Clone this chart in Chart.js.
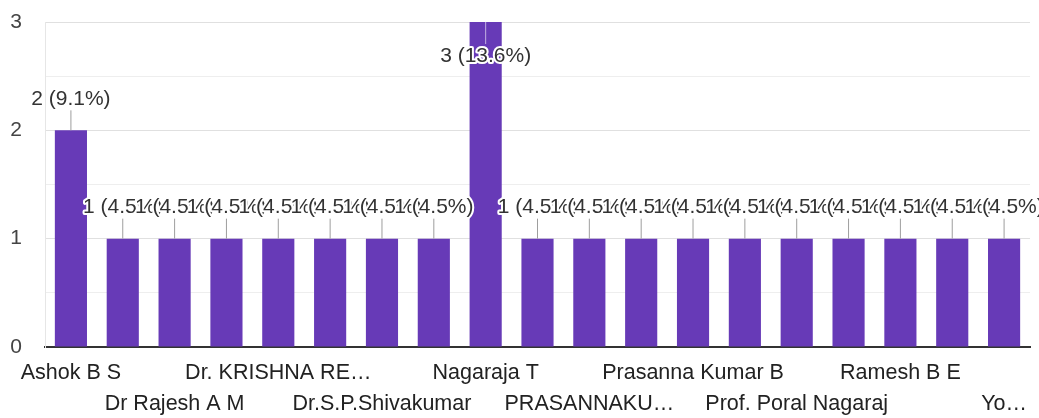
<!DOCTYPE html>
<html>
<head>
<meta charset="utf-8">
<script src="https://cdn.jsdelivr.net/npm/chart.js@4.4.1/dist/chart.umd.min.js"></script>
<style>
  html, body { margin: 0; padding: 0; background: #fff; }
  #wrap { width: 1039px; height: 418px; }
</style>
</head>
<body>
<div id="wrap"><canvas id="Answers"></canvas></div>
<script>
// names as shown on the axis; the unlabelled ones are not readable in the picture
var names = ["Ashok B S", "", "Dr Rajesh A M", "", "Dr. KRISHNA RE\u2026", "", "Dr.S.P.Shivakumar", "",
             "Nagaraja T", "", "PRASANNAKU\u2026", "", "Prasanna Kumar B", "", "Prof. Poral Nagaraj", "",
             "Ramesh B E", "", "Yo\u2026"];
var counts = [2, 1, 1, 1, 1, 1, 1, 1, 3, 1, 1, 1, 1, 1, 1, 1, 1, 1, 1];
var yTicks = [0, 1, 2, 3];

var total = counts.reduce(function(a, b){ return a + b; }, 0);
var FONT = "'Liberation Sans', Arial, sans-serif";

var barLabels = {
  id: 'barLabels',
  afterDatasetsDraw: function(chart){
    var ctx = chart.ctx;
    var area = chart.chartArea;
    var bars = chart.getDatasetMeta(0).data;
    ctx.save();
    ctx.font = '21px ' + FONT;
    ctx.textAlign = 'center';
    ctx.textBaseline = 'middle';
    bars.forEach(function(bar, i){
      var v = counts[i];
      var txt = v + ' (' + (v / total * 100).toFixed(1) + '%)';
      var inside = bar.y - 40 < area.top;
      var ty = inside ? bar.y + 34 : bar.y - 31;
      ctx.beginPath();
      ctx.lineWidth = 1;
      ctx.strokeStyle = inside ? 'rgba(255,255,255,0.6)' : '#9e9e9e';
      ctx.moveTo(bar.x, bar.y);
      ctx.lineTo(bar.x, inside ? ty - 12 : ty + 11);
      ctx.stroke();
      ctx.lineWidth = 4;
      ctx.lineJoin = 'round';
      ctx.strokeStyle = '#fff';
      ctx.strokeText(txt, bar.x, ty);
      ctx.fillStyle = '#333';
      ctx.fillText(txt, bar.x, ty);
    });
    ctx.restore();
  }
};

var ctx = document.getElementById("Answers");
var myChart = new Chart(ctx, {
  type: 'bar',
  data: {
    labels: names,
    datasets: [{
      label: 'Responses',
      data: counts,
      backgroundColor: '#673ab7',
      borderWidth: 0,
      barPercentage: 0.62,
      categoryPercentage: 1
    }]
  },
  options: {
    responsive: true,
    maintainAspectRatio: false,
    animation: false,
    layout: { padding: { left: 0, right: 9, top: 0, bottom: 0 } },
    plugins: { legend: { display: false }, tooltip: { enabled: false } },
    scales: {
      x: {
        grid: { display: false, drawTicks: false },
        border: { display: true, color: '#333', width: 2 },
        afterFit: function(axis){ axis.height = 71; axis.paddingLeft = 0; axis.paddingRight = 0; },
        ticks: {
          autoSkip: false,
          maxRotation: 0,
          padding: 10,
          color: '#222',
          font: { family: FONT, size: 21.5, lineHeight: 1.45 },
          callback: function(val, i){
            var l = names[i];
            if (!l) return '';
            return (i % 4 === 2) ? ['', l] : l;
          }
        }
      },
      y: {
        min: yTicks[0],
        max: yTicks[yTicks.length - 1],
        afterFit: function(axis){ axis.width = 45; axis.paddingTop = 22; axis.paddingBottom = 0; },
        grid: {
          drawTicks: false,
          color: function(c){ return Number.isInteger(c.tick.value) ? '#e0e0e0' : '#eeeeee'; }
        },
        border: { display: true, color: '#e6e6e6' },
        ticks: {
          stepSize: 0.5,
          padding: 23,
          color: '#444',
          font: { family: FONT, size: 21 },
          callback: function(v){ return yTicks.indexOf(v) >= 0 ? v : ''; }
        }
      }
    }
  },
  plugins: [barLabels]
});
</script>
</body>
</html>
